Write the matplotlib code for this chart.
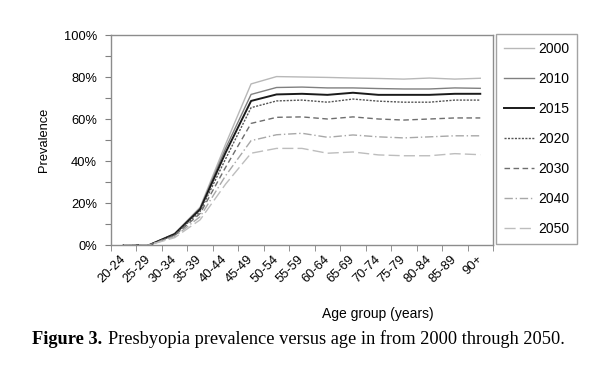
import matplotlib
matplotlib.use("Agg")
from matplotlib import pyplot as plt

plt.rcParams["font.family"] = ["Liberation Sans", "DejaVu Sans"]

age_groups = ["20-24", "25-29", "30-34", "35-39", "40-44", "45-49", "50-54", "55-59",
              "60-64", "65-69", "70-74", "75-79", "80-84", "85-89", "90+"]

prev_2000 = [0, 0, 5.5, 18, 48, 76.7, 80.2, 80.0, 79.8, 79.5, 79.3, 79.0, 79.5, 79.0, 79.4]
prev_2010 = [0, 0, 5.3, 17.5, 46, 71.7, 75.0, 75.2, 74.8, 74.8, 74.5, 74.3, 74.3, 74.8, 74.6]
prev_2015 = [0, 0, 5.2, 17, 44, 68.6, 71.7, 72.0, 71.5, 72.5, 71.5, 71.5, 71.5, 72.0, 72.0]
prev_2020 = [0, 0, 4.8, 16, 41, 65.4, 68.6, 69.0, 68.0, 69.5, 68.5, 68.0, 68.0, 69.0, 69.0]
prev_2030 = [0, 0, 4.5, 15, 37, 57.9, 60.8, 61.0, 60.0, 61.0, 60.0, 59.5, 60.0, 60.5, 60.5]
prev_2040 = [0, 0, 4.0, 13.5, 33, 49.7, 52.5, 53.2, 51.3, 52.4, 51.5, 51.0, 51.5, 52.0, 52.0]
prev_2050 = [0, 0, 3.5, 12, 29, 43.7, 46.0, 46.0, 43.7, 44.3, 42.9, 42.5, 42.5, 43.5, 43.0]

series = [
    ("2000", prev_2000, "#b8b8b8", "-", 1.0),
    ("2010", prev_2010, "#808080", "-", 1.0),
    ("2015", prev_2015, "#1a1a1a", "-", 1.4),
    ("2020", prev_2020, "#555555", (0, (1.5, 1)), 1.0),
    ("2030", prev_2030, "#6e6e6e", (0, (4, 2.5)), 1.0),
    ("2040", prev_2040, "#a8a8a8", (0, (6, 2, 1, 2)), 1.0),
    ("2050", prev_2050, "#bdbdbd", (0, (8, 3)), 1.0),
]

W, H = 613, 375
fig = plt.figure(figsize=(W / 100, H / 100), dpi=100)
ax = fig.add_axes([111 / W, 1 - 245 / H, (493 - 111) / W, (245 - 35) / H])

x = list(range(len(age_groups)))
for name, vals, color, ls, lw in series:
    ax.plot(x, vals, color=color, linestyle=ls, linewidth=lw, label=name)

ax.set_xlim(-0.5, len(age_groups) - 0.5)
ax.set_ylim(0, 100)

# category labels at centres, tick marks between categories
ax.set_xticks(x)
ax.set_xticklabels(age_groups, rotation=45, ha="right", va="center",
                   rotation_mode="anchor", fontsize=9.3)
ax.tick_params(axis="x", which="major", length=0, pad=9)
ax.set_xticks([i - 0.5 for i in range(len(age_groups) + 1)], minor=True)
ax.tick_params(axis="x", which="minor", length=4, color="#808080")

yt = list(range(0, 101, 10))
ax.set_yticks(yt)
ax.set_yticklabels([f"{v}%" if v % 20 == 0 else "" for v in yt], fontsize=9.3)
ax.tick_params(axis="y", length=4, color="#808080", pad=6)

for s in ax.spines.values():
    s.set_color("#8c8c8c")
    s.set_linewidth(1.0)

ax.set_ylabel("Prevalence", fontsize=9.3, labelpad=10)
fig.text(378 / W, 1 - 314 / H, "Age group (years)", ha="center", va="center", fontsize=10)

leg = fig.legend(loc="upper left", bbox_to_anchor=(496 / W, 1 - 34 / H),
                 fontsize=10, frameon=True, fancybox=False, borderaxespad=0,
                 handlelength=2.16, handletextpad=0.3, labelspacing=1.16,
                 borderpad=0.55)
leg.get_frame().set_edgecolor("#8c8c8c")
leg.get_frame().set_linewidth(1.0)

# caption with bold lead-in
cap1 = fig.text(32 / W, 1 - 339 / H, "Figure 3.", fontsize=13.2, fontweight="bold",
                family=["Liberation Serif"], va="center", ha="left")
fig.canvas.draw()
bb = cap1.get_window_extent()
fig.text((bb.x1 + 6) / W, 1 - 339 / H,
         "Presbyopia prevalence versus age in from 2000 through 2050.",
         fontsize=13.2, family=["Liberation Serif"], va="center", ha="left")

fig.savefig("out.png", dpi=100)
